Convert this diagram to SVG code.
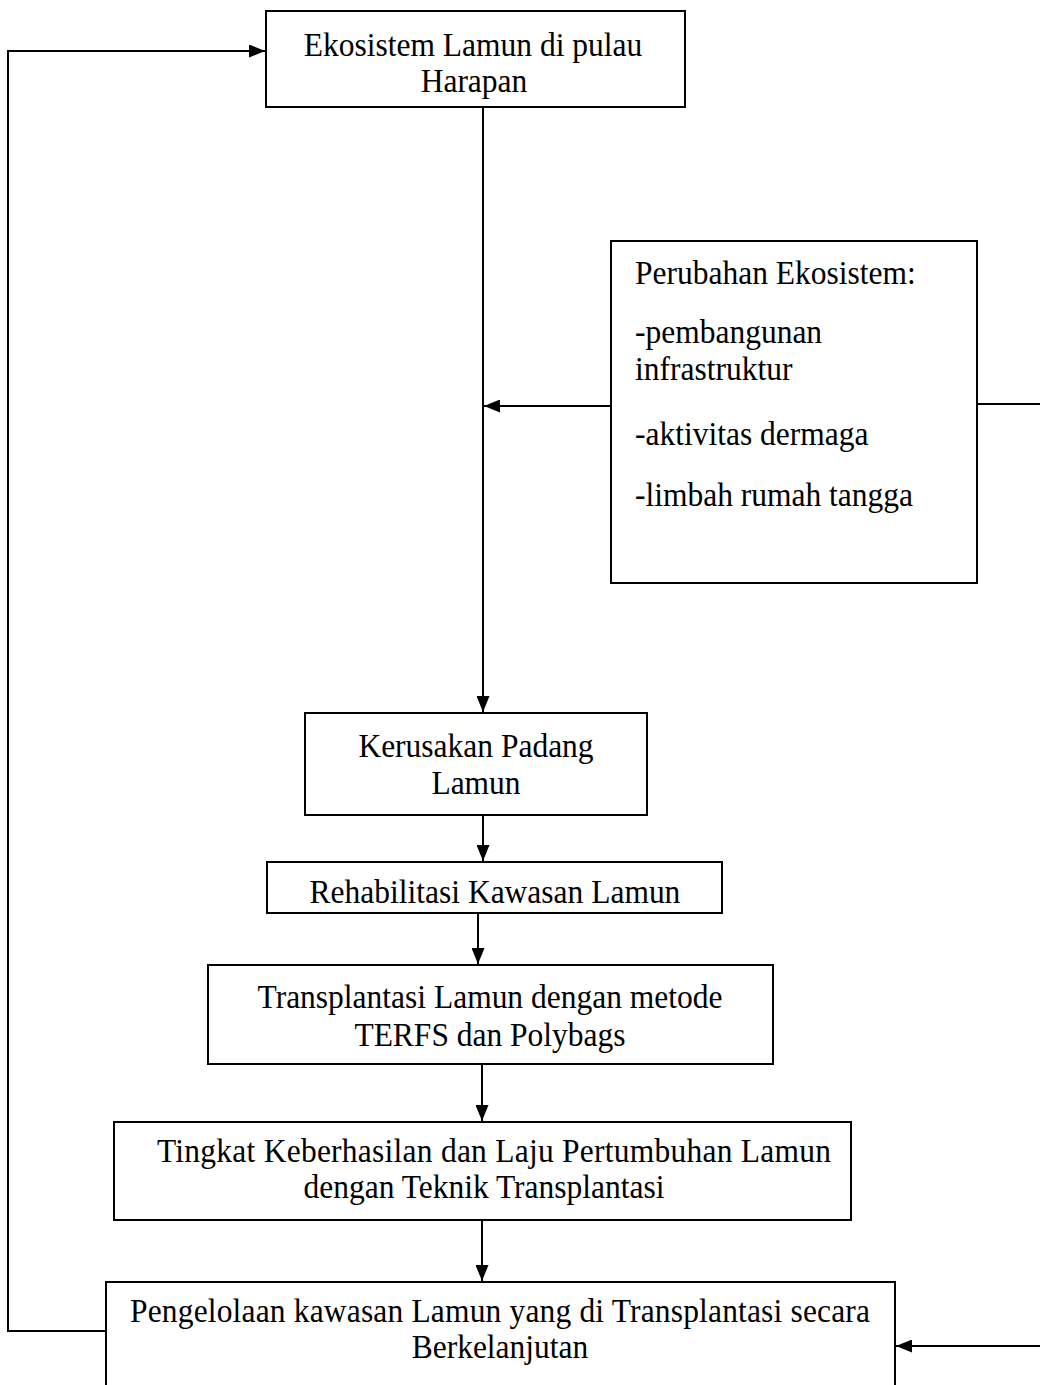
<svg xmlns="http://www.w3.org/2000/svg" width="1040" height="1385" viewBox="0 0 1040 1385">
<style>
.box{fill:#fff;stroke:#000;stroke-width:2}
.t{font-family:"Liberation Serif","Times New Roman",serif;font-size:31.5px;fill:#000;transform-box:fill-box;transform-origin:center;transform:scaleY(1.07)}
.c{text-anchor:middle}
.ln{fill:none;stroke:#000;stroke-width:2}
</style>
<defs>
<marker id="ah" markerWidth="16" markerHeight="13" refX="16" refY="6.5" orient="auto" markerUnits="userSpaceOnUse">
<path d="M0,0 L16,6.5 L0,13 Z" fill="#000"/>
</marker>
</defs>
<rect width="1040" height="1385" fill="#fff"/>
<g id="connectors">
<path class="ln" d="M106,1331 H8 V51 H265" marker-end="url(#ah)"/>
<path class="ln" d="M483,107 V712" marker-end="url(#ah)"/>
<path class="ln" d="M611,406 H484" marker-end="url(#ah)"/>
<path class="ln" d="M977,404 H1040"/>
<path class="ln" d="M1040,1346 H896" marker-end="url(#ah)"/>
<path class="ln" d="M483,815 V861" marker-end="url(#ah)"/>
<path class="ln" d="M478,913 V964" marker-end="url(#ah)"/>
<path class="ln" d="M482,1064 V1121" marker-end="url(#ah)"/>
<path class="ln" d="M482,1220 V1281" marker-end="url(#ah)"/>
</g>
<g id="n1">
<rect class="box" x="266" y="11" width="419" height="96"/>
<text class="t c" x="473" y="55">Ekosistem Lamun di pulau</text>
<text class="t c" x="474" y="91">Harapan</text>
</g>
<g id="n2">
<rect class="box" x="611" y="241" width="366" height="342"/>
<text class="t" x="635" y="283">Perubahan Ekosistem:</text>
<text class="t" x="635" y="342">-pembangunan</text>
<text class="t" x="635" y="379">infrastruktur</text>
<text class="t" x="635" y="444">-aktivitas dermaga</text>
<text class="t" x="635" y="505">-limbah rumah tangga</text>
</g>
<g id="n3">
<rect class="box" x="305" y="713" width="342" height="102"/>
<text class="t c" x="476" y="756">Kerusakan Padang</text>
<text class="t c" x="476" y="793">Lamun</text>
</g>
<g id="n4">
<rect class="box" x="267" y="862" width="455" height="51"/>
<text class="t c" x="495" y="902">Rehabilitasi Kawasan Lamun</text>
</g>
<g id="n5">
<rect class="box" x="208" y="965" width="565" height="99"/>
<text class="t c" x="490" y="1007">Transplantasi Lamun dengan metode</text>
<text class="t c" x="490" y="1045">TERFS dan Polybags</text>
</g>
<g id="n6">
<rect class="box" x="114" y="1122" width="737" height="98"/>
<text class="t c" x="494" y="1161" textLength="674" lengthAdjust="spacing">Tingkat Keberhasilan dan Laju Pertumbuhan Lamun</text>
<text class="t c" x="484" y="1197">dengan Teknik Transplantasi</text>
</g>
<g id="n7">
<rect class="box" x="106" y="1282" width="789" height="120"/>
<text class="t c" x="500" y="1321" textLength="740" lengthAdjust="spacing">Pengelolaan kawasan Lamun yang di Transplantasi secara</text>
<text class="t c" x="500" y="1357">Berkelanjutan</text>
</g>
</svg>
